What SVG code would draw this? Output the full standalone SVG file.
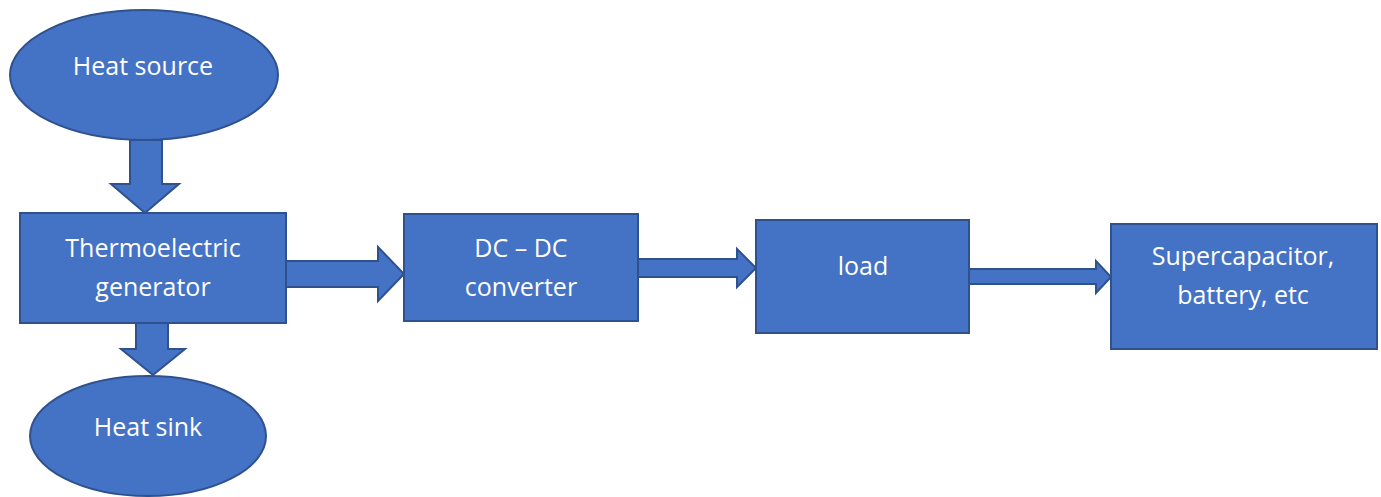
<svg xmlns="http://www.w3.org/2000/svg" width="1381" height="497" viewBox="0 0 1381 497">
<style>
.shape{fill:#4472C4;stroke:#2F528F;stroke-width:2}
.arrow{fill:#4472C4;stroke:#2F528F;stroke-width:2;stroke-linejoin:miter}
.lbl{font-family:"Open Sans","Liberation Sans",sans-serif;font-size:25px;fill:#ffffff;text-anchor:middle}
</style>
<rect width="1381" height="497" fill="#ffffff"/>
<g id="connectors">
<path class="arrow" d="M130,140 H162 V184 H179 L145,213 L111,184 H130 Z"/>
<path class="arrow" d="M286,261 H378 V247 L404,274 L378,301 V287 H286 Z"/>
<path class="arrow" d="M136,323 H168 V349 H185 L153,375 L121,349 H136 Z"/>
<path class="arrow" d="M638,259 H737 V249 L756,268 L737,287 V277 H638 Z"/>
<path class="arrow" d="M969,269 H1096 V261 L1111,277 L1096,293 V284 H969 Z"/>
</g>
<g id="heat-source">
<ellipse class="shape" cx="144" cy="75" rx="134" ry="65"/>
<text class="lbl" x="143" y="75">Heat source</text>
</g>
<g id="teg">
<rect class="shape" x="20" y="213" width="266" height="110"/>
<text class="lbl" x="153" y="257">Thermoelectric</text>
<text class="lbl" x="153" y="296">generator</text>
</g>
<g id="heat-sink">
<ellipse class="shape" cx="148" cy="436" rx="118" ry="60"/>
<text class="lbl" x="148" y="436">Heat sink</text>
</g>
<g id="dcdc">
<rect class="shape" x="404" y="214" width="234" height="107"/>
<text class="lbl" x="521" y="257">DC – DC</text>
<text class="lbl" x="521" y="296">converter</text>
</g>
<g id="load">
<rect class="shape" x="756" y="220" width="213" height="113"/>
<text class="lbl" x="863" y="275">load</text>
</g>
<g id="storage">
<rect class="shape" x="1111" y="224" width="266" height="125"/>
<text class="lbl" x="1243" y="265">Supercapacitor,</text>
<text class="lbl" x="1243" y="304">battery, etc</text>
</g>
</svg>
